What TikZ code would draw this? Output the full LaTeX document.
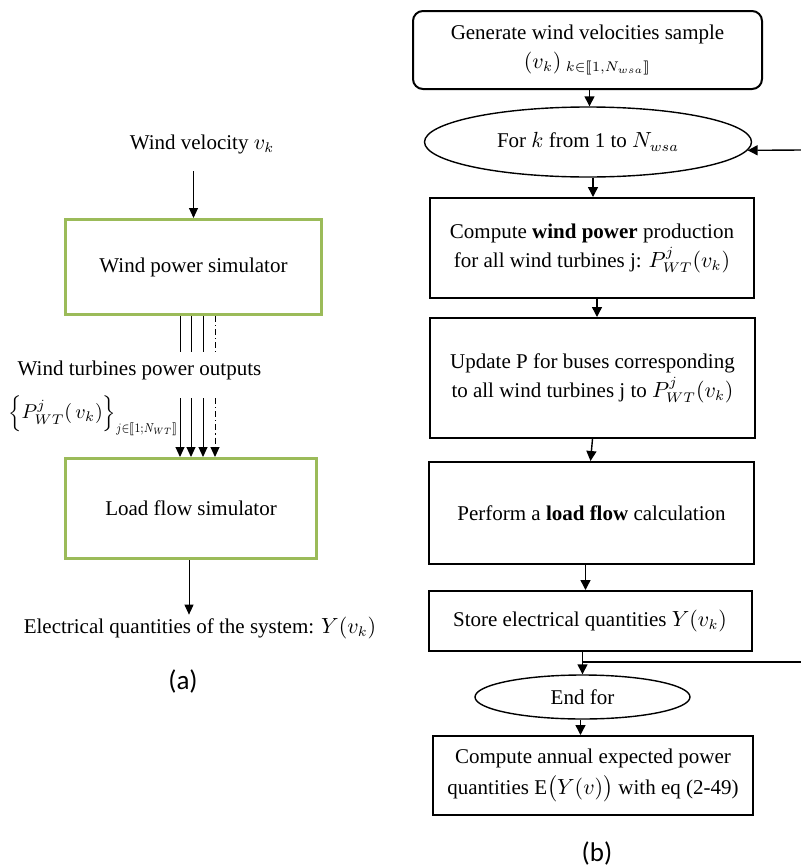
\documentclass[tikz,border=0pt]{standalone}
\usepackage{amsmath,stmaryrd,graphicx}
\usepackage{fontspec}
\setmainfont{Liberation Serif}
\newfontfamily\capfont{Carlito}
\usetikzlibrary{shapes.geometric,arrows.meta,positioning}
\definecolor{simgreen}{HTML}{9BBB59}
\newcommand{\txt}{\fontsize{10.5}{14.5}\selectfont}
\tikzset{
  simbox/.style={rectangle,draw=simgreen,line width=1.5pt,align=center,font=\txt},
  stepbox/.style={rectangle,draw=black,line width=1pt,align=center,font=\txt},
  loopnode/.style={ellipse,draw=black,line width=0.7pt,inner sep=0pt,align=center,font=\txt},
  flowarrow/.style={-{Triangle[length=5pt,width=5pt]},line width=0.7pt},
  thinarrow/.style={-{Triangle[length=5pt,width=4.5pt]},line width=0.5pt},
  wtdash/.style={dash pattern=on 3pt off 1.5pt on 0.6pt off 1.5pt},
  plain/.style={font=\txt,inner sep=1pt,align=center},
  caption/.style={font=\capfont\fontsize{13.5}{15}\selectfont},
}

\begin{document}
\begin{tikzpicture}[x=0.5pt,y=-0.5pt]
  \useasboundingbox (0,0) rectangle (801,868);
  % (a) simulation chain
  \node[plain] (vel) at (202,144) {Wind velocity $v_k$};
  \node[simbox,minimum width=128pt,minimum height=47.5pt] (wps) at (193.5,267) {Wind power simulator};
  \node[simbox,minimum width=125.5pt,minimum height=50pt] (lfs) at (191,508.5) {Load flow simulator};
  \node[plain] (wto) at (139.5,370) {Wind turbines power outputs};
  \node[plain,anchor=west,font=\fontsize{10}{12}\selectfont] (pwt) at (6,416)
    {$\Big\{P_{WT}^{j}(\,v_k)\Big\}_{\scalebox{0.74}[0.92]{$\scriptstyle j\in\llbracket 1;N_{WT}\rrbracket$}}$};
  \node[plain] (elq) at (200,628) {Electrical quantities of the system: $Y(v_k)$};
  \node[caption] (capa) at (183,681) {(a)};
  \draw[thinarrow] (wps.north) ++(0,-47) -- (wps.north);
  \foreach \dx/\ls in {-13.5/solid,-2.5/solid,9.5/solid,21.5/wtdash}{
    \draw[line width=0.5pt,\ls] ([xshift=\dx*0.5pt]wps.south) -- ++(0,36);
    \draw[thinarrow,\ls] ([xshift=\dx*0.5pt]wps.south) ++(0,82) -- ([xshift=\dx*0.5pt]wps.south |- lfs.north);
  }
  \draw[thinarrow] ([xshift=-1pt]lfs.south) -- ([xshift=-1pt]lfs.south |- elq.north);

  % (b) flowchart
  \node[stepbox,rounded corners=5pt,minimum width=174.5pt,minimum height=39pt] (gen) at (587.5,50)
    {Generate wind velocities sample\\$(v_k)_{\;k\in\llbracket 1,N_{wsa}\rrbracket}$};
  \node[loopnode,minimum width=163.5pt,minimum height=35pt] (fork) at (588,142) {For $k$ from 1 to $N_{wsa}$};
  \node[stepbox,minimum width=162pt,minimum height=50pt] (comp) at (592,248)
    {Compute \textbf{wind power} production\\for all wind turbines j: $P_{WT}^{j}(v_k)$};
  \node[stepbox,minimum width=162.5pt,minimum height=60pt] (upd) at (592.5,378)
    {Update P for buses corresponding\\to all wind turbines j to $P_{WT}^{j}(v_k)$};
  \node[stepbox,minimum width=162.5pt,minimum height=51pt] (lf) at (591.5,513) {Perform a \textbf{load flow} calculation};
  \node[stepbox,minimum width=161.5pt,minimum height=30pt] (store) at (590,621) {Store electrical quantities $Y(v_k)$};
  \node[loopnode,minimum width=107.5pt,minimum height=22pt] (endf) at (582.5,697) {End for};
  \node[stepbox,minimum width=160pt,minimum height=39.5pt] (annual) at (593,775.5)
    {Compute annual expected power\\[1pt]quantities $\mathrm{E}\big(Y(v)\big)$ with eq (2-49)};
  \node[caption] (capb) at (597,853) {(b)};
  \coordinate (loopin) at (801,150);
  \path (store.south -| endf.north) ++(0,10) coordinate (jn);
  \coordinate (loopout) at (jn -| loopin);
  \draw[flowarrow] ([xshift=1pt]gen.south) -- ([xshift=1pt]gen.south |- fork.north);
  \draw[flowarrow] ([xshift=2.5pt]fork.south) -- ([xshift=2.5pt]fork.south |- comp.north);
  \draw[flowarrow] ([xshift=2.5pt]comp.south) -- ([xshift=2.5pt]comp.south |- upd.north);
  \draw[flowarrow] (upd.south) -- ([xshift=-1pt]upd.south |- lf.north);
  \draw[flowarrow] ([xshift=-3pt]lf.south) -- ([xshift=-3pt]lf.south |- store.north);
  \draw[flowarrow] (store.south -| endf.north) -- (endf.north);
  \draw[flowarrow] ([xshift=-1pt]endf.south) -- ([xshift=-1pt]endf.south |- annual.north);
  \draw[line width=0.7pt] (jn) -- (loopout);
  \draw[flowarrow] (loopin) -- (fork.-3);
\end{tikzpicture}
\end{document}
